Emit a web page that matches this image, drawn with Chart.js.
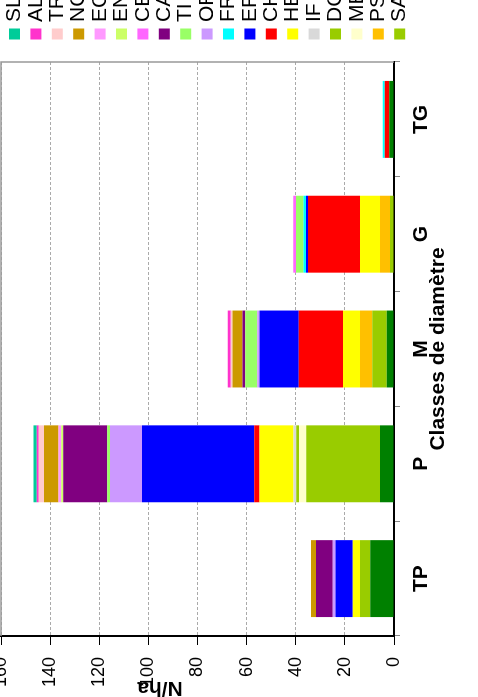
<!DOCTYPE html>
<html>
<head>
<meta charset="utf-8">
<script src="https://cdn.jsdelivr.net/npm/chart.js@4.4.1/dist/chart.umd.min.js"></script>
<style>
  html, body { margin: 0; padding: 0; background: #fff; overflow: hidden; }
  /* chart is drawn upright, then turned a quarter left like the reference */
  #wrap {
    position: absolute;
    left: 0;
    top: 0;
    width: 697px;
    height: 478px;
    transform-origin: 0 0;
    transform: translateY(697px) rotate(-90deg);
  }
</style>
</head>
<body>
<div id="wrap"><canvas id="chart" width="697" height="478"></canvas></div>
<script>
// --- Data (N/ha per diameter class) ---
const categories = ['TP', 'P', 'M', 'G', 'TG']
const yTicks = [0, 20, 40, 60, 80, 100, 120, 140, 160]

// bottom series, no legend entry in the source
const base = [9.7, 5.7, 3.0, 0, 1.9]
const SA = [4.1, 30.0, 5.9, 1.6, 0]
const PS = [0, 0, 4.9, 4.1, 0]
const ME = [0, 3.0, 0, 0, 0]
const DG = [0, 1.1, 0, 0, 0]
const IF = [0, 1.1, 0, 0, 0]
const HE = [3.0, 13.9, 7.0, 8.1, 0]
const CH = [0, 2.1, 18.0, 21.2, 1.9]
const ER = [7.0, 45.7, 16.0, 0.8, 0]
const FR = [0, 0, 0, 1.0, 0.8]
const OR = [1.1, 13.0, 0.9, 0, 0]
const TI = [0, 1.1, 4.9, 3.1, 0]
const CA = [6.9, 18.0, 1.1, 0, 0]
const CE = [0, 0, 0, 1.1, 0]
const EN = [0, 0.8, 0, 0, 0]
const EC = [0, 1.1, 0, 0, 0]
const NO = [2.0, 5.9, 4.0, 0, 0]
const TR = [0, 2.1, 0.8, 0, 0]
const AL = [0, 0.8, 1.2, 0, 0]
const SL = [0, 1.4, 0, 0, 0]

// stack order, bottom to top
const series = [
  ['', base], ['SA', SA], ['PS', PS], ['ME', ME], ['DG', DG], ['IF', IF],
  ['HE', HE], ['CH', CH], ['ER', ER], ['FR', FR], ['OR', OR], ['TI', TI],
  ['CA', CA], ['CE', CE], ['EN', EN], ['EC', EC], ['NO', NO], ['TR', TR],
  ['AL', AL], ['SL', SL],
]

const colors = {
  '': '#008000', SA: '#99cc00', PS: '#ffc000', ME: '#ffffcc', DG: '#99cc00',
  IF: '#d9d9d9', HE: '#ffff00', CH: '#ff0000', ER: '#0000ff', FR: '#00ffff',
  OR: '#cc99ff', TI: '#99ff66', CA: '#800080', CE: '#ff66ff', EN: '#ccff66',
  EC: '#ff99ff', NO: '#cc9900', TR: '#ffcccc', AL: '#ff33cc', SL: '#00cc99',
}

const FONT = '"Liberation Sans", Arial, sans-serif'
Chart.defaults.font.family = FONT
Chart.defaults.color = '#000'

// frame, side legend and y title drawn by hand
const extras = {
  id: 'extras',
  afterDraw: (c) => {
    const x = c.ctx
    const a = c.chartArea
    x.save()
    x.strokeStyle = '#999'
    x.lineWidth = 1.5
    x.beginPath()
    x.moveTo(a.left, a.top)
    x.lineTo(a.right, a.top)
    x.lineTo(a.right, a.bottom)
    x.stroke()

    x.font = `21px ${FONT}`
    x.textBaseline = 'middle'
    x.textAlign = 'left'
    c.data.datasets
      .filter((d) => d.label)
      .reverse()
      .forEach((d, i) => {
        const cy = 14.5 + i * 21.4
        x.fillStyle = d.backgroundColor
        x.fillRect(657.5, cy - 5.5, 11, 11)
        x.fillStyle = '#000'
        x.fillText(d.label, 675, cy)
      })

    x.translate(15, 160)
    x.rotate(-Math.PI / 2)
    x.font = `bold 21px ${FONT}`
    x.textAlign = 'center'
    x.textBaseline = 'alphabetic'
    x.fillText('N/ha', 0, 0)
    x.restore()
  },
}

new Chart(document.getElementById('chart'), {
  type: 'bar',
  data: {
    labels: categories,
    datasets: series.map(([label, data]) => ({
      label,
      data,
      backgroundColor: colors[label],
      borderWidth: 0,
      categoryPercentage: 1,
      barPercentage: 0.67,
    })),
  },
  plugins: [extras],
  options: {
    responsive: false,
    animation: false,
    layout: { padding: { top: 1, right: 62, bottom: 0, left: 0 } },
    plugins: { legend: { display: false }, tooltip: { enabled: false } },
    scales: {
      x: {
        stacked: true,
        z: 1,
        grid: {
          offset: true,
          drawOnChartArea: false,
          tickLength: 6,
          tickColor: '#888',
        },
        border: { color: '#000', width: 2 },
        ticks: { font: { size: 21, weight: 'bold' }, padding: 9 },
        title: {
          display: true,
          text: 'Classes de diamètre',
          font: { size: 21, weight: 'bold' },
          padding: { top: 0, bottom: 27 },
        },
        afterFit: (s) => {
          s.height = 84
          s.paddingLeft = 0
          s.paddingRight = 0
        },
      },
      y: {
        stacked: true,
        min: 0,
        max: 160,
        grid: {
          color: '#aaa',
          lineWidth: 1,
          tickColor: '#000',
          tickLength: 9,
        },
        border: { color: '#000', width: 2, dash: [3, 2] },
        ticks: { font: { size: 18 }, padding: 12 },
        afterBuildTicks: (s) => {
          s.ticks = yTicks.map((v) => ({ value: v }))
        },
        afterFit: (s) => {
          s.width = 61
          s.paddingTop = 0
          s.paddingBottom = 0
        },
      },
    },
  },
})
</script>
</body>
</html>
